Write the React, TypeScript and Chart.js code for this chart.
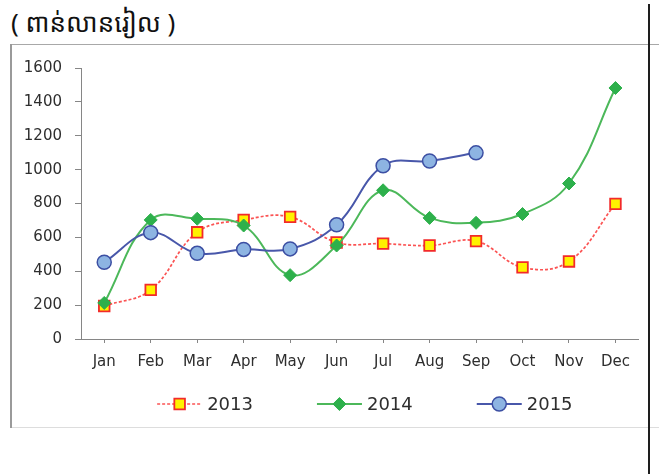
import React, { useEffect, useRef } from "react";
import { Chart, registerables } from "chart.js";

Chart.register(...registerables);

const titleText = "( ពាន់លានរៀល )";
const months = ["Jan", "Feb", "Mar", "Apr", "May", "Jun", "Jul", "Aug", "Sep", "Oct", "Nov", "Dec"];
const seriesNames = ["2013", "2014", "2015"];
const values2013 = [195, 290, 630, 703, 721, 570, 563, 552, 578, 423, 458, 798];
const values2014 = [213, 703, 710, 670, 377, 552, 878, 715, 686, 738, 918, 1482];
const values2015 = [453, 628, 506, 529, 532, 674, 1023, 1051, 1099, null, null, null];
const yMin = 0;
const yMax = 1600;
const yStep = 200;

const FONT = "'DejaVu Sans', 'Liberation Sans', sans-serif";
const TEXT = "#2e2e2e";
const AXIS = "#868686";

function drawMarker(ctx: CanvasRenderingContext2D, ds: any, x: number, y: number) {
  const r = ds.pointRadius;
  ctx.save();
  ctx.setLineDash([]);
  ctx.fillStyle = ds.pointBackgroundColor;
  ctx.strokeStyle = ds.pointBorderColor;
  ctx.lineWidth = ds.pointBorderWidth;
  ctx.beginPath();
  if (ds.pointStyle === "rect") {
    const s = Math.SQRT1_2 * r;
    ctx.rect(x - s, y - s, 2 * s, 2 * s);
  } else if (ds.pointStyle === "rectRot") {
    ctx.moveTo(x, y - r);
    ctx.lineTo(x + r, y);
    ctx.lineTo(x, y + r);
    ctx.lineTo(x - r, y);
    ctx.closePath();
  } else {
    ctx.arc(x, y, r, 0, Math.PI * 2);
  }
  ctx.fill();
  ctx.stroke();
  ctx.restore();
}

const lineLegend = {
  id: "lineLegend",
  afterDraw(chart: any) {
    const ctx: CanvasRenderingContext2D = chart.ctx;
    const area = chart.chartArea;
    ctx.save();
    ctx.font = `18px ${FONT}`;
    const lineLen = 45;
    const gap = 5;
    const itemGap = 64;
    const items = chart.data.datasets.map((ds: any) => ({
      ds,
      w: lineLen + gap + ctx.measureText(ds.label).width,
    }));
    const total = items.reduce((a: number, it: any) => a + it.w, 0) + itemGap * (items.length - 1);
    let x = (area.left + area.right) / 2 + 5 - total / 2;
    const y = area.bottom + 65;
    items.forEach(({ ds, w }: any) => {
      ctx.save();
      ctx.strokeStyle = ds.borderColor;
      ctx.lineWidth = ds.borderWidth;
      ctx.setLineDash(ds.borderDash || []);
      ctx.beginPath();
      ctx.moveTo(x, y);
      ctx.lineTo(x + lineLen, y);
      ctx.stroke();
      ctx.restore();
      drawMarker(ctx, ds, x + lineLen / 2, y);
      ctx.fillStyle = TEXT;
      ctx.textBaseline = "middle";
      ctx.textAlign = "left";
      ctx.fillText(ds.label, x + lineLen + gap, y + 1);
      x += w + itemGap;
    });
    ctx.restore();
  },
};

export default function App() {
  const canvasRef = useRef<HTMLCanvasElement | null>(null);

  useEffect(() => {
    const canvas = canvasRef.current;
    if (!canvas) return;
    const chart = new Chart(canvas, {
      type: "line",
      data: {
        labels: months,
        datasets: [
          {
            label: seriesNames[0],
            data: values2013,
            borderColor: "rgba(250,40,40,0.8)",
            borderWidth: 1.7,
            borderDash: [3, 2],
            tension: 0.4,
            pointStyle: "rect",
            pointRadius: 7.5,
            pointBackgroundColor: "#FFF200",
            pointBorderColor: "#F22A2A",
            pointBorderWidth: 1.8,
            order: 3,
          },
          {
            label: seriesNames[1],
            data: values2014,
            borderColor: "#4CB85A",
            borderWidth: 2,
            tension: 0.4,
            pointStyle: "rectRot",
            pointRadius: 6.5,
            pointBackgroundColor: "#2DB04B",
            pointBorderColor: "#2DB04B",
            pointBorderWidth: 1,
            order: 2,
          },
          {
            label: seriesNames[2],
            data: values2015,
            borderColor: "#4857AA",
            borderWidth: 2,
            tension: 0.4,
            pointStyle: "circle",
            pointRadius: 7,
            pointBackgroundColor: "#8DB4E2",
            pointBorderColor: "#3C4FA3",
            pointBorderWidth: 1.5,
            spanGaps: false,
            order: 1,
          },
        ] as any,
      },
      options: {
        animation: false,
        responsive: false,
        maintainAspectRatio: false,
        devicePixelRatio: 1,
        events: [],
        layout: { padding: { left: 0, top: 18, right: 6, bottom: 47 } },
        plugins: {
          legend: { display: false },
          title: { display: false },
          tooltip: { enabled: false },
        },
        scales: {
          x: {
            type: "category",
            offset: true,
            grid: {
              display: true,
              drawOnChartArea: false,
              drawTicks: true,
              tickLength: 4,
              color: AXIS,
              offset: false,
            },
            border: { color: AXIS, width: 1 },
            ticks: {
              color: TEXT,
              font: { family: FONT, size: 15 },
              padding: 10,
              maxRotation: 0,
              autoSkip: false,
            },
            afterFit(scale: any) {
              scale.height = 40;
              scale.paddingLeft = 0;
              scale.paddingRight = 0;
            },
          },
          y: {
            min: yMin,
            max: yMax,
            grid: {
              display: true,
              drawOnChartArea: false,
              drawTicks: true,
              tickLength: 6,
              color: AXIS,
            },
            border: { color: AXIS, width: 1 },
            ticks: {
              stepSize: yStep,
              color: TEXT,
              font: { family: FONT, size: 15 },
              padding: 13,
              callback: (v: any) => String(v),
            },
            afterFit(scale: any) {
              scale.width = 69;
            },
          },
        },
      } as any,
      plugins: [lineLegend],
    });
    return () => chart.destroy();
  }, []);

  return (
    <div style={{ position: "absolute", left: 0, top: 0, width: 659, height: 474, background: "#fff", overflow: "hidden" }}>
      <div
        style={{
          position: "absolute",
          left: 11,
          top: 4,
          fontFamily: "'Noto Sans Khmer', 'Khmer OS', 'Noto Sans', sans-serif",
          fontSize: 26,
          lineHeight: "36px",
          color: "#111",
          whiteSpace: "nowrap",
        }}
      >
        {titleText}
      </div>
      <div style={{ position: "absolute", left: 10, top: 44, width: 649, height: 1, background: "#a8a8a8" }} />
      <div style={{ position: "absolute", left: 10, top: 427, width: 649, height: 1, background: "#dddddd" }} />
      <div style={{ position: "absolute", left: 10, top: 44, width: 2, height: 384, background: "#9a9a9a" }} />
      <canvas
        ref={canvasRef}
        width={636}
        height={380}
        style={{ position: "absolute", left: 12, top: 46, width: 636, height: 380 }}
      />
      <div style={{ position: "absolute", left: 648, top: 4, width: 2, height: 470, background: "#1e1e1e" }} />
    </div>
  );
}
